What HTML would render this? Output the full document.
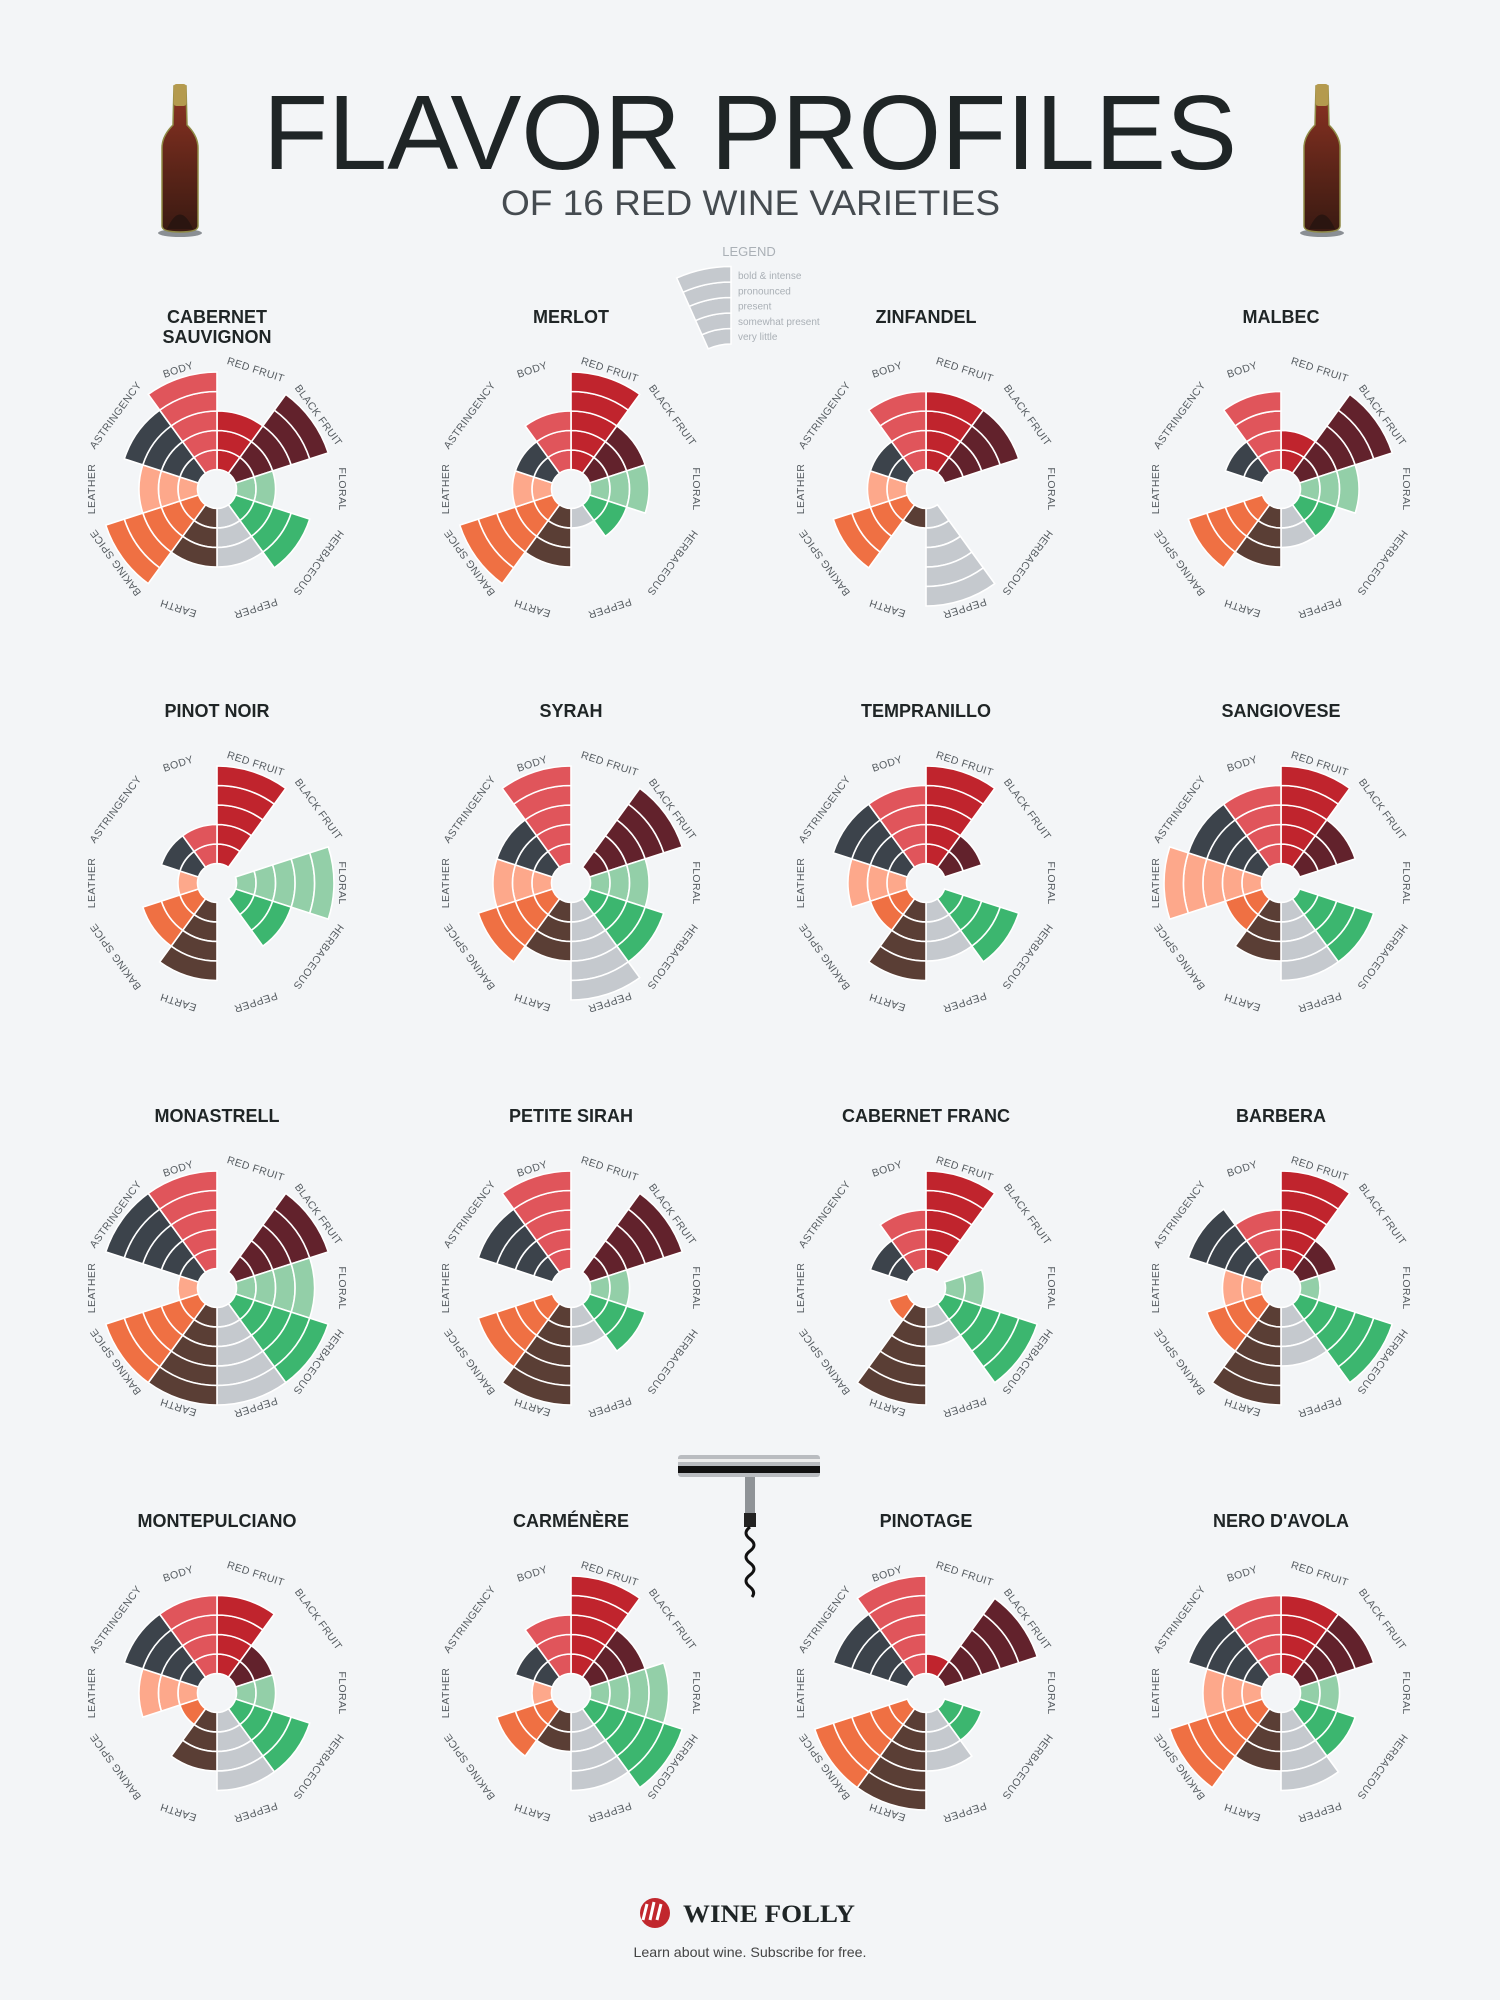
<!DOCTYPE html>
<html>
<head>
<meta charset="utf-8">
<style>
html,body{margin:0;padding:0;background:#f3f5f7;}
#root{width:1500px;height:2000px;position:relative;overflow:hidden;background:#f3f5f7;}
svg text{font-family:"Liberation Sans",sans-serif;}
</style>
</head>
<body>
<div id="root">
<svg id="svg" width="1500" height="2000" viewBox="0 0 1500 2000" xmlns="http://www.w3.org/2000/svg">
  <defs>
    <linearGradient id="wineGrad" x1="0" y1="0" x2="0" y2="1">
      <stop offset="0" stop-color="#8e3323"/>
      <stop offset="0.6" stop-color="#5a2418"/>
      <stop offset="1" stop-color="#3a1a12"/>
    </linearGradient>
  </defs>
  <text x="263" y="169" font-size="106" fill="#1f2526" textLength="974" lengthAdjust="spacingAndGlyphs">FLAVOR PROFILES</text>
  <text x="501" y="215" font-size="35" fill="#454b50" textLength="499" lengthAdjust="spacingAndGlyphs">OF 16 RED WINE VARIETIES</text>
  <g id="bottles"></g>
  <g id="legend">
    <text x="749" y="256" font-size="13" fill="#aab0b6" text-anchor="middle">LEGEND</text>
  </g>
  <g id="charts"></g>
  <g id="corkscrew">
    <rect x="678" y="1455" width="142" height="22" rx="3" fill="#b9bcc0"/>
    <rect x="678" y="1466" width="142" height="7" fill="#111"/>
    <rect x="678" y="1459" width="142" height="3" fill="#eee"/>
    <rect x="745" y="1477" width="10" height="38" fill="#8f9397"/>
    <rect x="744" y="1513" width="12" height="14" fill="#222"/>
    <path d="M750 1527 q-8 6 0 12 q8 6 0 12 q-8 6 0 12 q8 6 0 12 q-8 6 0 12 q6 5 2 10" fill="none" stroke="#111" stroke-width="3"/>
  </g>
  <g id="footer">
    <circle cx="655" cy="1913" r="15" fill="#c1272d"/>
    <path d="M647 1904 l-4 16 M654 1902 l-4 18 M661 1904 l-4 16" stroke="#fff" stroke-width="3" fill="none"/>
    <text x="683" y="1922" font-size="25" font-weight="bold" fill="#1f2526" textLength="172" lengthAdjust="spacingAndGlyphs" style="font-family:'Liberation Serif',serif">WINE FOLLY</text>
    <text x="750" y="1957" font-size="14" fill="#444" text-anchor="middle" textLength="233" lengthAdjust="spacingAndGlyphs">Learn about wine. Subscribe for free.</text>
  </g>
</svg>
</div>
<script>
// ---- chart data ----
const categories = ["RED FRUIT","BLACK FRUIT","FLORAL","HERBACEOUS","PEPPER","EARTH","BAKING SPICE","LEATHER","ASTRINGENCY","BODY"];
const categoryColors = ["#c0242d","#62222c","#93cfa8","#3cb66f","#c5c9ce","#5a3e35","#ef7043","#fda88b","#3c434b","#e0555b"];
const wineNames = ["CABERNET SAUVIGNON","MERLOT","ZINFANDEL","MALBEC","PINOT NOIR","SYRAH","TEMPRANILLO","SANGIOVESE","MONASTRELL","PETITE SIRAH","CABERNET FRANC","BARBERA","MONTEPULCIANO","CARMÉNÈRE","PINOTAGE","NERO D'AVOLA"];
const cabernetSauvignon = [3,5,2,4,3,3,5,3,4,5];
const merlot            = [5,3,3,2,1,3,5,2,2,3];
const zinfandel         = [4,4,0,0,5,1,4,2,2,4];
const malbec            = [2,5,3,2,2,3,4,0,2,4];
const pinotNoir         = [5,0,5,3,0,4,3,1,2,2];
const syrah             = [0,5,3,4,5,3,4,3,3,5];
const tempranillo       = [5,2,0,4,3,4,2,3,4,4];
const sangiovese        = [5,3,0,4,4,3,2,5,4,4];
const monastrell        = [0,5,4,5,5,5,5,1,5,5];
const petiteSirah       = [0,5,2,3,2,5,4,0,4,5];
const cabernetFranc     = [5,0,2,5,2,5,1,0,2,3];
const barbera           = [5,2,1,5,3,5,3,2,4,3];
const montepulciano     = [4,2,2,4,4,3,1,3,4,4];
const carmenere         = [5,3,4,5,4,2,3,1,2,3];
const pinotage          = [1,5,0,2,3,5,5,0,4,5];
const neroDAvola        = [4,4,2,3,4,3,5,3,4,4];
const legendLabels = ["bold & intense","pronounced","present","somewhat present","very little"];
const maxLevel = 5;

const wineValues = [cabernetSauvignon,merlot,zinfandel,malbec,pinotNoir,syrah,tempranillo,sangiovese,monastrell,petiteSirah,cabernetFranc,barbera,montepulciano,carmenere,pinotage,neroDAvola];

// ---- layout ----
const NS = "http://www.w3.org/2000/svg";
const colX = [217,571,926,1281];
const rowY = [489,883,1288,1693];
const titleY = [316,710,1115,1520];
const band = 19.5;
function rScale(level){ return band*(level+1); }
function aScale(i){ return i*36; }
function pt(cx,cy,r,deg){ const a=deg*Math.PI/180; return [cx+r*Math.sin(a), cy-r*Math.cos(a)]; }
function sectorPath(cx,cy,r0,r1,a0,a1){
  const p1=pt(cx,cy,r0,a0),p2=pt(cx,cy,r1,a0),p3=pt(cx,cy,r1,a1),p4=pt(cx,cy,r0,a1);
  return `M${p1[0].toFixed(2)} ${p1[1].toFixed(2)} L${p2[0].toFixed(2)} ${p2[1].toFixed(2)} A${r1} ${r1} 0 0 1 ${p3[0].toFixed(2)} ${p3[1].toFixed(2)} L${p4[0].toFixed(2)} ${p4[1].toFixed(2)} A${r0} ${r0} 0 0 0 ${p1[0].toFixed(2)} ${p1[1].toFixed(2)} Z`;
}
function slug(s){ return s.toLowerCase().normalize("NFD").replace(/[\u0300-\u036f]/g,"").replace(/[^a-z0-9]+/g,"-").replace(/^-|-$/g,""); }

const chartsG = document.getElementById("charts");
wineValues.forEach((vals,w)=>{
  const cx = colX[w%4], cy = rowY[Math.floor(w/4)], ty = titleY[Math.floor(w/4)];
  const g = document.createElementNS(NS,"g");
  
  
  const lines = wineNames[w]==="CABERNET SAUVIGNON" ? ["CABERNET","SAUVIGNON"] : [wineNames[w]];
  lines.forEach((ln,li)=>{
    const t = document.createElementNS(NS,"text");
    t.setAttribute("x",cx);
    t.setAttribute("y",ty+7+li*20);
    t.setAttribute("font-size","18");
    t.setAttribute("font-weight","bold");
    t.setAttribute("fill","#1f2526");
    t.setAttribute("text-anchor","middle");
    t.textContent = ln;
    
    
    g.appendChild(t);
  });
  vals.forEach((v,i)=>{
    for(let k=1;k<=v;k++){
      const p = document.createElementNS(NS,"path");
      p.setAttribute("d", sectorPath(cx,cy,rScale(k-1),rScale(k),aScale(i),aScale(i+1)));
      p.setAttribute("fill",categoryColors[i]);
      p.setAttribute("stroke","#ffffff");
      p.setAttribute("stroke-width","1.6");
      
      
      g.appendChild(p);
    }
    const lab = document.createElementNS(NS,"text");
    const mid = aScale(i)+18;
    lab.setAttribute("transform",`translate(${cx},${cy}) rotate(${mid}) translate(0,-122)`);
    lab.setAttribute("text-anchor","middle");
    lab.setAttribute("font-size","10.5");
    lab.setAttribute("letter-spacing","0.4");
    lab.setAttribute("fill","#555b60");
    lab.textContent = categories[i];
    
    
    g.appendChild(lab);
  });
  chartsG.appendChild(g);
});

// ---- legend ----
const legendG = document.getElementById("legend");
for(let k=1;k<=maxLevel;k++){
  const p = document.createElementNS(NS,"path");
  const lcx=731, lcy=400;
  const r0 = 56+(k-1)*15.5, r1 = 56+k*15.5;
  p.setAttribute("d", sectorPath(lcx,lcy,r0,r1,-24,0));
  p.setAttribute("fill","#c5c9ce");
  p.setAttribute("stroke","#ffffff");
  p.setAttribute("stroke-width","1.5");
  
  
  legendG.appendChild(p);
}
legendLabels.forEach((lbl,i)=>{
  const t = document.createElementNS(NS,"text");
  t.setAttribute("x",738);
  t.setAttribute("y",279+i*15.3);
  t.setAttribute("font-size","10");
  t.setAttribute("fill","#aab0b6");
  t.textContent = lbl;
  
  
  legendG.appendChild(t);
});

// ---- bottles ----
const bottlesG = document.getElementById("bottles");
[180,1322].forEach((bx,bi)=>{
  const g = document.createElementNS(NS,"g");
  
  
  const shadow = document.createElementNS(NS,"ellipse");
  shadow.setAttribute("cx",bx); shadow.setAttribute("cy",233); shadow.setAttribute("rx",22); shadow.setAttribute("ry",4);
  shadow.setAttribute("fill","#8a8f94");
  g.appendChild(shadow);
  const body = document.createElementNS(NS,"path");
  body.setAttribute("d",`M${bx-6} 86 L${bx+6} 86 L${bx+7} 125 Q${bx+18} 136 ${bx+18} 148 L${bx+18} 226 Q${bx+18} 232 ${bx} 232 Q${bx-18} 232 ${bx-18} 226 L${bx-18} 148 Q${bx-18} 136 ${bx-7} 125 Z`);
  body.setAttribute("fill","url(#wineGrad)");
  body.setAttribute("stroke","#8f8a45");
  body.setAttribute("stroke-width","1.5");
  g.appendChild(body);
  const cap = document.createElementNS(NS,"rect");
  cap.setAttribute("x",bx-6.5); cap.setAttribute("y",84); cap.setAttribute("width",13); cap.setAttribute("height",22); cap.setAttribute("rx",3);
  cap.setAttribute("fill","#b49a4e");
  g.appendChild(cap);
  const punt = document.createElementNS(NS,"path");
  punt.setAttribute("d",`M${bx-13} 229 Q${bx} 200 ${bx+13} 229 Z`);
  punt.setAttribute("fill","#2a1510");
  g.appendChild(punt);
  bottlesG.appendChild(g);
});
</script>
</body>
</html>
